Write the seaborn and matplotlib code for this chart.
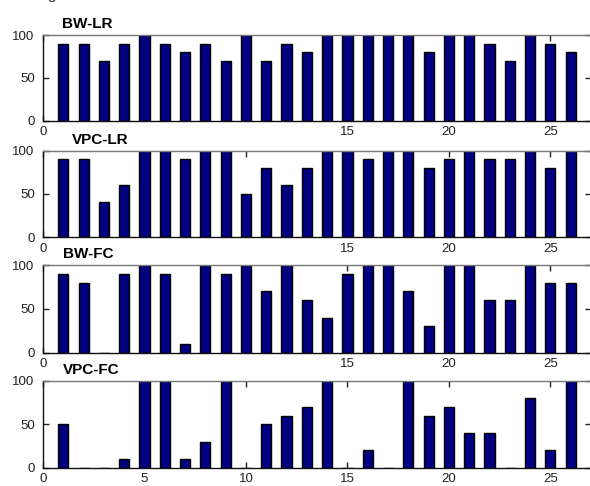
import matplotlib
matplotlib.use("Agg")
import matplotlib.pyplot as plt
import seaborn as sns
import numpy as np

# Recognition rate (%) per subject for each method
subjects = list(range(1, 27))
bw_lr = [90, 90, 70, 90, 100, 90, 80, 90, 70, 100, 70, 90, 80,
         100, 100, 100, 100, 100, 80, 100, 100, 90, 70, 100, 90, 80]
vpc_lr = [90, 90, 40, 60, 100, 100, 90, 100, 100, 50, 80, 60, 80,
          100, 100, 90, 100, 100, 80, 90, 100, 90, 90, 100, 80, 100]
bw_fc = [90, 80, 0, 90, 100, 90, 10, 100, 90, 100, 70, 100, 60,
         40, 90, 100, 100, 70, 30, 100, 100, 60, 60, 100, 80, 80]
vpc_fc = [50, 0, 0, 10, 100, 100, 10, 30, 100, 0, 50, 60, 70,
          100, 0, 20, 0, 100, 60, 70, 40, 40, 0, 80, 20, 100]

panel_titles = ["BW-LR", "VPC-LR", "BW-FC", "VPC-FC"]
panel_values = [bw_lr, vpc_lr, bw_fc, vpc_fc]

x_ticks = [0, 5, 10, 15, 20, 25]
x_ticklabels_partial = ["0", "", "", "15", "20", "25"]
x_ticklabels_full = ["0", "5", "10", "15", "20", "25"]
y_ticks = [0, 50, 100]
y_ticklabels = ["0", "50", "100"]

sns.set_style("ticks")
plt.rcParams["font.family"] = ["Liberation Sans", "DejaVu Sans"]

W, H = 590, 486
fig = plt.figure(figsize=(W / 100, H / 100), dpi=100)

# axes boxes in pixels: (top, bottom)
rows = [(35, 120.7), (150.7, 237), (265, 352.7), (380.7, 467.7)]
left_px, right_px = 43, 591
title_x_px = [62, 72, 63, 63]

for i, (title, vals) in enumerate(zip(panel_titles, panel_values)):
    top, bot = rows[i]
    ax = fig.add_axes([left_px / W, 1 - bot / H,
                       (right_px - left_px) / W, (bot - top) / H])
    sns.barplot(x=subjects, y=vals, native_scale=True, width=0.5,
                color="#000080", saturation=1, edgecolor="black",
                linewidth=1, ax=ax)
    ax.set_xlim(0, 27)
    ax.set_ylim(0, 100)
    ax.set_xlabel("")
    ax.set_ylabel("")
    ax.set_xticks(x_ticks)
    ax.set_xticklabels(x_ticklabels_full if i == 3 else x_ticklabels_partial)
    ax.set_yticks(y_ticks)
    ax.set_yticklabels(y_ticklabels)
    ax.tick_params(axis="both", direction="in", length=4, width=1,
                   color="#222222", labelsize=9.5, labelcolor="#222222",
                   top=True, right=True, pad=6)
    ax.tick_params(axis="x", pad=4)
    for side in ["left", "bottom"]:
        ax.spines[side].set_color("#111111")
        ax.spines[side].set_linewidth(1)
    for side in ["top", "right"]:
        ax.spines[side].set_visible(True)
        ax.spines[side].set_color("#777777")
        ax.spines[side].set_linewidth(1)
    fig.text(title_x_px[i] / W, 1 - (top - 4) / H, title,
             fontsize=11, fontweight="bold", ha="left", va="bottom",
             color="black")

# descender of the caption line cut off above
fig.text(47 / W, 1 + 1 / H, "g", fontsize=11, ha="left", va="baseline")

fig.savefig("out.png", dpi=100)
